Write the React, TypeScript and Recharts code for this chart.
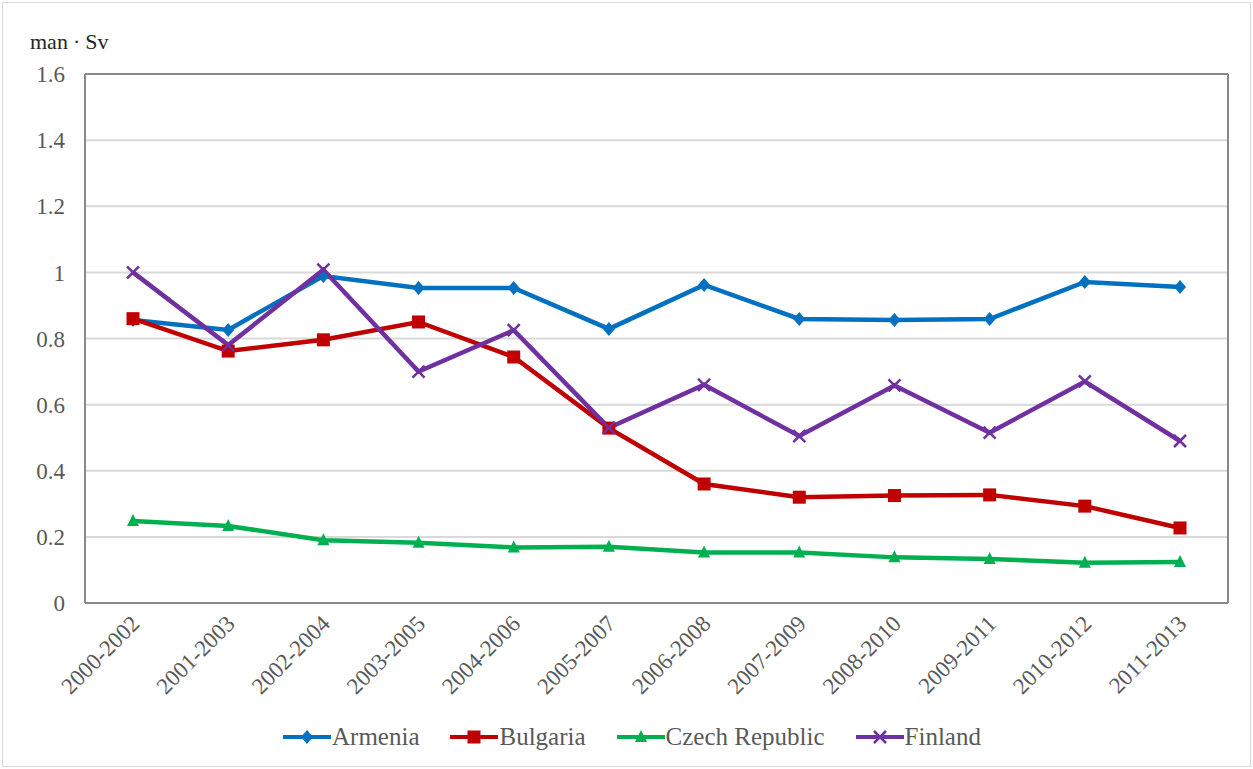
import { CartesianGrid, Legend, Line, LineChart, XAxis, YAxis } from 'recharts'

const periods = [
  '2000-2002', '2001-2003', '2002-2004', '2003-2005', '2004-2006', '2005-2007',
  '2006-2008', '2007-2009', '2008-2010', '2009-2011', '2010-2012', '2011-2013',
]
const armenia = [0.856, 0.826, 0.989, 0.953, 0.953, 0.829, 0.962, 0.859, 0.856, 0.859, 0.971, 0.956]
const bulgaria = [0.86, 0.762, 0.796, 0.85, 0.744, 0.529, 0.36, 0.32, 0.325, 0.327, 0.293, 0.227]
const czech = [0.248, 0.233, 0.19, 0.182, 0.168, 0.17, 0.153, 0.153, 0.138, 0.133, 0.122, 0.124]
const finland = [1.0, 0.78, 1.008, 0.7, 0.825, 0.53, 0.66, 0.505, 0.658, 0.515, 0.67, 0.49]
const yTicks = [0, 0.2, 0.4, 0.6, 0.8, 1, 1.2, 1.4, 1.6]

const data = periods.map((period, i) => ({
  period,
  Armenia: armenia[i],
  Bulgaria: bulgaria[i],
  'Czech Republic': czech[i],
  Finland: finland[i],
}))

const FONT = "'Liberation Serif'"
const TEXT = '#595959'

type Marker = 'diamond' | 'square' | 'triangle' | 'cross'

const SERIES: { key: string; color: string; marker: Marker }[] = [
  { key: 'Armenia', color: '#0070C0', marker: 'diamond' },
  { key: 'Bulgaria', color: '#C00000', marker: 'square' },
  { key: 'Czech Republic', color: '#00B050', marker: 'triangle' },
  { key: 'Finland', color: '#7030A0', marker: 'cross' },
]

function markerShape(marker: Marker, cx: number, cy: number, color: string, key?: string) {
  if (marker === 'diamond') {
    return <path key={key} d={`M${cx},${cy - 7}L${cx + 6},${cy}L${cx},${cy + 7}L${cx - 6},${cy}Z`} fill={color} />
  }
  if (marker === 'square') {
    return <rect key={key} x={cx - 6.5} y={cy - 6.5} width={13} height={13} fill={color} />
  }
  if (marker === 'triangle') {
    return <path key={key} d={`M${cx},${cy - 7}L${cx + 6},${cy + 5}L${cx - 6},${cy + 5}Z`} fill={color} />
  }
  return (
    <path
      key={key}
      d={`M${cx - 6},${cy - 6}L${cx + 6},${cy + 6}M${cx - 6},${cy + 6}L${cx + 6},${cy - 6}`}
      stroke={color}
      strokeWidth={2.5}
      fill="none"
    />
  )
}

function makeDot(marker: Marker, color: string) {
  return (props: any) => {
    const { cx, cy, index } = props
    if (cx == null || cy == null) return <g key={`d-${index}`} />
    return markerShape(marker, cx, cy, color, `d-${index}`)
  }
}

function XTick(props: any) {
  const { x, y, payload } = props
  const tx = x + 8
  const ty = y + 14
  return (
    <text
      x={tx}
      y={ty}
      transform={`rotate(-45, ${tx}, ${ty})`}
      textAnchor="end"
      fontSize={23}
      fontFamily={FONT}
      fill={TEXT}
    >
      {payload.value}
    </text>
  )
}

function LegendContent() {
  return (
    <div
      style={{
        height: 26,
        display: 'flex',
        justifyContent: 'center',
        alignItems: 'center',
        fontFamily: FONT,
        fontSize: 25,
        color: TEXT,
        gap: 30,
        paddingLeft: 10,
      }}
    >
      {SERIES.map((s) => (
        <div key={s.key} style={{ display: 'flex', alignItems: 'center' }}>
          <svg width={50} height={20}>
            <line x1={1} y1={10} x2={49} y2={10} stroke={s.color} strokeWidth={4} />
            {markerShape(s.marker, 25, 10, s.color)}
          </svg>
          <span>{s.key}</span>
        </div>
      ))}
    </div>
  )
}

export default function App() {
  return (
    <div
      style={{
        position: 'absolute',
        left: 0,
        top: 0,
        width: 1253,
        height: 769,
        background: '#fff',
      }}
    >
      <div
        style={{
          position: 'absolute',
          left: 2,
          top: 2,
          width: 1247,
          height: 763,
          border: '1px solid #d9d9d9',
        }}
      />
      <div
        style={{
          position: 'absolute',
          left: 30,
          top: 29,
          fontFamily: FONT,
          fontSize: 22,
          color: '#262626',
        }}
      >
        man<span style={{ margin: '0 5px' }}>·</span>Sv
      </div>
      <LineChart
        width={1253}
        height={769}
        data={data}
        margin={{ top: 74, right: 25, left: 25, bottom: 40 }}
        style={{ position: 'absolute', left: 0, top: 0 }}
      >
        <CartesianGrid vertical={false} stroke="#d9d9d9" strokeWidth={2} />
        <CartesianGrid
          stroke="#898989"
          strokeWidth={2}
          fill="none"
          horizontalCoordinatesGenerator={({ offset }: any) => [offset.top, offset.top + offset.height]}
          verticalCoordinatesGenerator={({ offset }: any) => [offset.left, offset.left + offset.width]}
        />
        <XAxis
          dataKey="period"
          height={100}
          padding={{ left: 48, right: 48 }}
          axisLine={false}
          tickLine={false}
          tick={<XTick />}
          interval={0}
        />
        <YAxis
          width={60}
          domain={[0, 1.6]}
          ticks={yTicks}
          axisLine={false}
          tickLine={false}
          tickMargin={14}
          tick={{ fontSize: 23, fontFamily: FONT, fill: TEXT }}
        />
        <Legend
          content={<LegendContent />}
          wrapperStyle={{ left: 0, top: 724, width: 1253 }}
        />
        {SERIES.map((s) => (
          <Line
            key={s.key}
            dataKey={s.key}
            stroke={s.color}
            strokeWidth={4.5}
            dot={makeDot(s.marker, s.color)}
            activeDot={false}
            isAnimationActive={false}
          />
        ))}
      </LineChart>
    </div>
  )
}
